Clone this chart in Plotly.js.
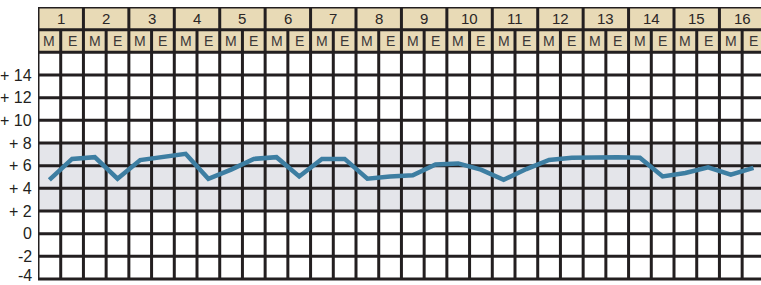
<!DOCTYPE html>
<html><head><meta charset="utf-8">
<script src="https://cdn.plot.ly/plotly-3.0.1.min.js"></script>
<style>html,body{margin:0;padding:0;background:#fff;}#chart{width:761px;height:285px;}</style>
</head><body><div id="chart"></div>
<script>
// Data
var days = ["1","2","3","4","5","6","7","8","9","10","11","12","13","14","15","16"];
var halves = ["M","E"];
var values = [4.75,6.6, 6.75,4.85, 6.5,6.8, 7.05,4.85, 5.65,6.6, 6.75,5.05, 6.6,6.6, 4.85,5.05,
              5.15,6.1, 6.2,5.65, 4.75,5.7, 6.5,6.7, 6.75,6.75, 6.7,5.05, 5.35,5.85, 5.2,5.8];
var yTickVals = [14,12,10,8,6,4,2,0,-2,-4];
var yTickText = ["+ 14","+ 12","+ 10","+ 8","+ 6","+ 4","+ 2","0","-2","-4"];
var bandRange = [2,8];

(function(){
var nCols = days.length * halves.length;
var xs = values.map(function(v,i){return i;});
var ink = "#231f20";
var lw = 3;
var fam = "Liberation Sans, Arial, sans-serif";
var shapes = [];
shapes.push({type:"rect",xref:"x",yref:"y",x0:-0.5,x1:nCols-0.5,y0:bandRange[0],y1:bandRange[1],
  fillcolor:"#e4e5ea",line:{width:0},layer:"below"});
shapes.push({type:"rect",xref:"x",yref:"y",x0:-0.5,x1:nCols-0.5,y0:16,y1:20,
  fillcolor:"#e8dab6",line:{width:0},layer:"below"});
for (var yy=-4; yy<=20; yy+=2){
  shapes.push({type:"line",xref:"x",yref:"y",x0:-0.5,x1:nCols-0.5,y0:yy,y1:yy,line:{color:ink,width:lw},layer:"below"});
}
for (var i=0;i<=nCols;i++){
  var yTop = (i%2===0) ? 20 : 18;
  shapes.push({type:"line",xref:"x",yref:"y",x0:i-0.5,x1:i-0.5,y0:-4,y1:yTop,line:{color:ink,width:lw},layer:"below"});
}
var annotations = [];
days.forEach(function(d,k){
  annotations.push({x:2*k+0.5,y:19,xref:"x",yref:"y",text:d,showarrow:false,
    font:{family:fam,size:15,color:"#2a2626"}});
  halves.forEach(function(h,j){
    annotations.push({x:2*k+j,y:17,xref:"x",yref:"y",text:h,showarrow:false,
      font:{family:fam,size:14,color:"#3a3636"}});
  });
});
yTickVals.forEach(function(v,k){
  var last = (k === yTickVals.length-1);
  annotations.push({x:0,xref:"paper",y:v,yref:"y",text:yTickText[k],showarrow:false,
    xanchor:"right",xshift:-4,yshift:last?4:0,font:{family:fam,size:16,color:ink}});
});

var trace = {x:xs,y:values,type:"scatter",mode:"lines",
  line:{color:"#3d7ea2",width:4.5},hoverinfo:"skip"};

var layout = {
  width:761,height:285,
  margin:{l:38,r:0,t:7,b:2,pad:0,autoexpand:false},
  paper_bgcolor:"#fff",plot_bgcolor:"#fff",
  showlegend:false,
  xaxis:{range:[-0.5,31.33],showgrid:false,zeroline:false,showticklabels:false,ticks:"",fixedrange:true,showline:false},
  yaxis:{range:[-4.35,20],showgrid:false,zeroline:false,showticklabels:false,ticks:"",
    fixedrange:true,showline:false},
  shapes:shapes,
  annotations:annotations
};
Plotly.newPlot("chart",[trace],layout,{displayModeBar:false});
})();
</script></body></html>
